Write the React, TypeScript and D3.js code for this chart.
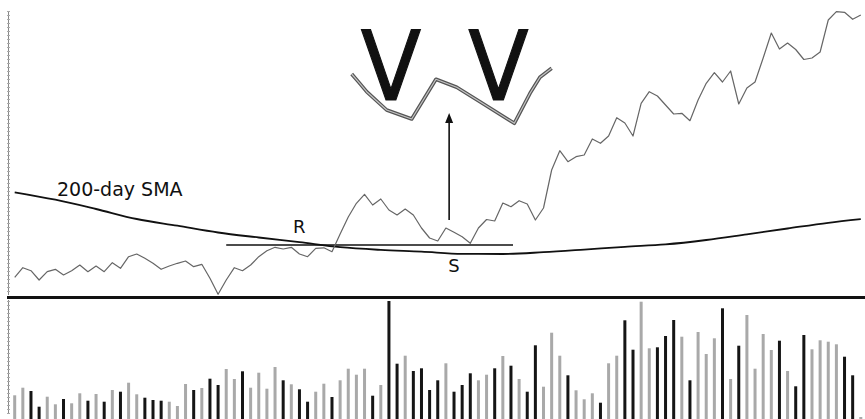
import React from "react";
import * as d3 from "d3";

// ---- Data ----
const prices = [
  18.7, 28.3, 25.3, 16, 24.3, 26.7, 21, 25.3, 31, 24.3,
  30, 24.3, 33.3, 27.7, 39.3, 42, 37.7, 32.7, 26.7, 30,
  32.7, 35, 29.3, 31.7, 17.7, 1.7, 16, 28.3, 25.3, 31,
  39.3, 45.3, 48.7, 47, 48.7, 42, 39.3, 47.7, 48.2, 44.3,
  62, 79, 92.7, 101.7, 91, 97, 86, 81, 87, 81,
  68, 58, 55, 68, 63.7, 59.3, 52.7, 68, 76.5, 75,
  93, 89.3, 95.3, 92, 76, 88, 126, 145.3, 134.3, 139.3,
  141, 157, 152.7, 160, 178.3, 173, 160, 192.7, 204.3, 200,
  191, 182, 182.7, 175.3, 196, 212.7, 223.3, 214, 225, 192,
  208, 214, 238, 263, 247, 253, 246.5, 236.5, 238, 244,
  276, 284.3, 283.7, 276.7, 281,
];

const volumes = [
  23.7, 31.3, 28, 12.3, 22.3, 14.7, 20, 15.7, 25.7, 18.3,
  25, 17.3, 29, 27.3, 36.3, 24.7, 21.3, 19, 18.3, 17.3,
  13, 35, 29, 31, 40.3, 34, 50, 40, 47.7, 31.3,
  46.3, 30.3, 52, 38.7, 34.7, 29.7, 17.3, 27.3, 35.3, 22,
  38.7, 50.3, 44.3, 50.3, 23.3, 34, 118, 55.3, 63.3, 48,
  50.7, 29, 38.7, 55.7, 27.3, 34, 45.7, 38.7, 44.3, 50.7,
  63, 53.3, 40, 27.3, 73.7, 32.3, 86.3, 63.3, 43.7, 28.7,
  19.7, 25.7, 16.3, 55.7, 63.3, 98.7, 69.3, 117.3, 70.7, 71.7,
  83, 99, 82.3, 38.7, 87, 65, 80.7, 110.7, 40, 73.3,
  104, 50.3, 85, 69, 78.3, 48, 32.7, 84, 69.7, 78.7,
  77.3, 74.7, 62.3, 43.7, 2,
];

const smaDays = [0, 5, 10, 15, 20, 25, 30, 35, 40, 45, 50, 55, 60, 65, 70, 75, 80, 85, 90, 95, 100, 104];
const smaValues = [103.7, 96.3, 87, 77, 70.3, 63.5, 58.5, 53.8, 48.8, 46.1, 44.4, 42.2, 42, 43.8, 46.4, 49.2, 51.6, 56, 61.7, 67.5, 73.2, 76.9];

// horizontal level line (R / S)
const levelDays = [26, 61.25];
const levelValue = 51;

// "W" sketch annotation (day, value)
const wDays = [41.42, 42.23, 43.26, 45.72, 48.8, 51.78, 54.33, 57.19, 61.41, 63.34, 64.56, 66.0];
const wValues = [222, 214.3, 204.3, 186, 177, 216.7, 208.7, 194.3, 172.7, 202.7, 218.7, 227.7];

const arrowDay = 53.4;
const arrowFrom = 76;
const arrowTo = 183;

const vLetterDays = [46.25, 59.45];
const vLetterValue = 196;

const labels = [
  { text: "200-day SMA", day: 5.2, value: 100, size: 19 },
  { text: "R", day: 34.2, value: 63, size: 18 },
  { text: "S", day: 53.3, value: 24, size: 18 },
];

const W = 865;
const H = 419;

export default function App() {
  const x = d3.scaleLinear().domain([0, 104]).range([14.7, 860.8]);
  const yP = d3.scaleLinear().domain([0, 296]).range([296, 0]);
  const yV = d3.scaleLinear().domain([0, 120]).range([419, 299]);

  const priceLine = d3
    .line<number>()
    .x((_, i) => x(i))
    .y((d) => yP(d))(prices) as string;

  const smaLine = d3
    .line<number>()
    .x((_, i) => x(smaDays[i]))
    .y((d) => yP(d))
    .curve(d3.curveMonotoneX)(smaValues) as string;

  const wLine = d3
    .line<number>()
    .x((_, i) => x(wDays[i]))
    .y((d) => yP(d))(wValues) as string;

  const priceTicks = d3.range(11, 295, 4);
  const volTicks = d3.range(301, 414, 4);

  const ax = x(arrowDay);
  const aTop = yP(arrowTo);

  return (
    <svg
      width={W}
      height={H}
      style={{ position: "absolute", left: 0, top: 0, display: "block", background: "#fff" }}
      fontFamily="DejaVu Sans, Verdana, sans-serif"
    >
      <rect x={0} y={0} width={W} height={H} fill="#fff" />
      {/* left axes */}
      <line x1={8.5} x2={8.5} y1={11} y2={295} stroke="#888" strokeWidth={1} />
      {priceTicks.map((t) => (
        <line key={"pt" + t} x1={7} x2={10} y1={t + 0.5} y2={t + 0.5} stroke="#aaa" strokeWidth={1} />
      ))}
      <line x1={8.5} x2={8.5} y1={300} y2={414} stroke="#888" strokeWidth={1} />
      {volTicks.map((t) => (
        <line key={"vt" + t} x1={7} x2={10} y1={t + 0.5} y2={t + 0.5} stroke="#aaa" strokeWidth={1} />
      ))}

      {/* volume bars */}
      {volumes.map((v, i) => {
        const up = i === 0 || prices[i] >= prices[i - 1];
        return (
          <rect
            key={"v" + i}
            x={x(i) - 1.5}
            width={3}
            y={yV(v)}
            height={yV(0) - yV(v)}
            fill={up ? "#a9a9a9" : "#151515"}
          />
        );
      })}

      {/* separator */}
      <rect x={7} y={296} width={W - 7} height={3} fill="#111" />

      {/* SMA */}
      <path d={smaLine} fill="none" stroke="#111" strokeWidth={1.8} />
      {/* level line */}
      <line
        x1={x(levelDays[0])}
        x2={x(levelDays[1])}
        y1={yP(levelValue)}
        y2={yP(levelValue)}
        stroke="#111"
        strokeWidth={1.4}
      />
      {/* price */}
      <path d={priceLine} fill="none" stroke="#666" strokeWidth={1.2} strokeLinejoin="round" />

      {/* labels */}
      {labels.map((l) => (
        <text key={l.text} x={x(l.day)} y={yP(l.value)} fontSize={l.size} fill="#111">
          {l.text}
        </text>
      ))}

      {/* arrow */}
      <line x1={ax} x2={ax} y1={yP(arrowFrom)} y2={aTop + 8} stroke="#111" strokeWidth={1.6} />
      <path d={`M${ax},${aTop} L${ax - 4},${aTop + 10} L${ax + 4},${aTop + 10} Z`} fill="#111" />

      {/* V V sketch */}
      {vLetterDays.map((d, i) => (
        <text
          key={"V" + i}
          x={x(d)}
          y={yP(vLetterValue)}
          fontSize={96}
          textAnchor="middle"
          fill="#111"
          stroke="#111"
          strokeWidth={1.2}
          transform={`translate(${x(d)},0) scale(0.92,1) translate(${-x(d)},0)`}
        >
          V
        </text>
      ))}
      <path d={wLine} fill="none" stroke="#555" strokeWidth={3.6} strokeLinejoin="round" />
      <path d={wLine} fill="none" stroke="#c4c4c4" strokeWidth={1.2} strokeLinejoin="round" />
    </svg>
  );
}
